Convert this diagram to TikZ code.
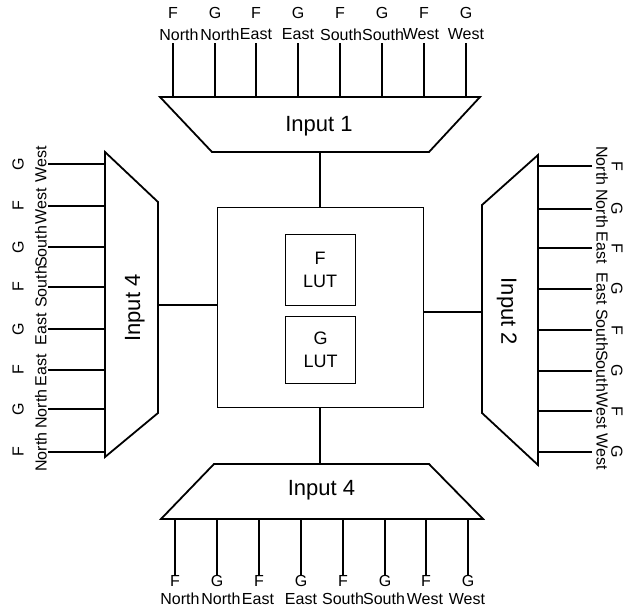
\documentclass[tikz,border=0pt]{standalone}
\usepackage{fontspec}
\setmainfont{Liberation Sans}
\begin{document}
\begin{tikzpicture}[x=1pt,y=-1pt,
  wire/.style={line width=1.8pt},
  mux/.style={line width=1.8pt, line join=miter, fill=white},
  lbl/.style={font=\fontsize{16}{18}\selectfont, inner sep=0pt},
  muxlabel/.style={font=\fontsize{22}{26}\selectfont, inner sep=0pt},
  core/.style={draw, line width=0.9pt, minimum width=206pt, minimum height=200pt, inner sep=0pt},
  lut/.style={draw, line width=0.9pt, align=center, minimum width=70pt,
              font=\fontsize{18}{23}\selectfont, inner sep=0pt},
]
\useasboundingbox (0,0) rectangle (624,613);

% logic block with its two look-up tables
\node[core] (core) at (320,307) {};
\node[lut, minimum height=71pt] (flut) at (320,269.5) {F\\LUT};
\node[lut, minimum height=67pt] (glut) at (320.5,349.5) {G\\LUT};

% input multiplexers
\draw[mux] (160,97) -- (480,97) -- (429,152) -- (212,152) -- cycle;
\node[muxlabel] (in1) at (319,126.3) {Input 1};
\coordinate (in1out) at (320,152);

\draw[mux] (214,464) -- (429,464) -- (483,519) -- (161,519) -- cycle;
\node[muxlabel] (in4b) at (321.5,490) {Input 4};
\coordinate (in4bout) at (320,464);

\draw[mux] (105,152) -- (158,202) -- (158,413) -- (105,457) -- cycle;
\node[muxlabel, rotate=90] (in4l) at (134.8,308) {Input 4};
\coordinate (in4lout) at (158,305);

\draw[mux] (538,155) -- (538,465) -- (482,413) -- (482,205) -- cycle;
\node[muxlabel, rotate=-90] (in2) at (506.7,311.5) {Input 2};
\coordinate (in2out) at (482,312);

% multiplexer outputs into the logic block
\draw[wire] (in1out) -- (core.north);
\draw[wire] (in4bout) -- (core.south);
\draw[wire] (in4lout) -- (in4lout -| core.west);
\draw[wire] (in2out) -- (in2out -| core.east);

% top inputs
\foreach \p/\t/\n/\d [count=\i] in {173/F/North/6, 215/G/North/5, 256/F/East/0, 298/G/East/0,
    340/F/South/1, 382/G/South/1, 424/F/West/-3, 466/G/West/0} {
  \coordinate (ta\i) at (\p,43);
  \coordinate (tb\i) at (\p,97);
  \draw[wire] (ta\i) -- (tb\i);
  \node[lbl] (tl\i) at (\p,13) {\t};
  \node[lbl] (tn\i) at (\p+\d,34.5) {\n};
}

% bottom inputs
\foreach \p/\t/\n/\d [count=\i] in {175/F/North/5, 217/G/North/4, 259/F/East/-1, 301/G/East/0,
    343/F/South/0, 385/G/South/-1, 426/F/West/-1, 468/G/West/-1} {
  \coordinate (ba\i) at (\p,575);
  \coordinate (bb\i) at (\p,519);
  \draw[wire] (ba\i) -- (bb\i);
  \node[lbl] (bl\i) at (\p,581) {\t};
  \node[lbl] (bn\i) at (\p+\d,599) {\n};
}

% left inputs
\foreach \p/\t/\n [count=\i] in {452/F/North, 409/G/North, 370/F/East, 329/G/East,
    287/F/South, 247/G/South, 206/F/West, 164/G/West} {
  \coordinate (la\i) at (48,\p);
  \coordinate (lb\i) at (105,\p);
  \draw[wire] (la\i) -- (lb\i);
  \node[lbl, rotate=90] (ll\i) at (18,\p) {\t};
  \node[lbl, rotate=90] (ln\i) at (41,\p) {\n};
}

% right inputs
\foreach \p/\t/\n [count=\i] in {166/F/North, 209/G/North, 248/F/East, 289/G/East,
    330/F/South, 371/G/South, 411/F/West, 452/G/West} {
  \coordinate (ra\i) at (592,\p);
  \coordinate (rb\i) at (538,\p);
  \draw[wire] (ra\i) -- (rb\i);
  \node[lbl, rotate=-90] (rl\i) at (617,\p) {\t};
  \node[lbl, rotate=-90] (rn\i) at (602,\p) {\n};
}
\end{tikzpicture}
\end{document}
